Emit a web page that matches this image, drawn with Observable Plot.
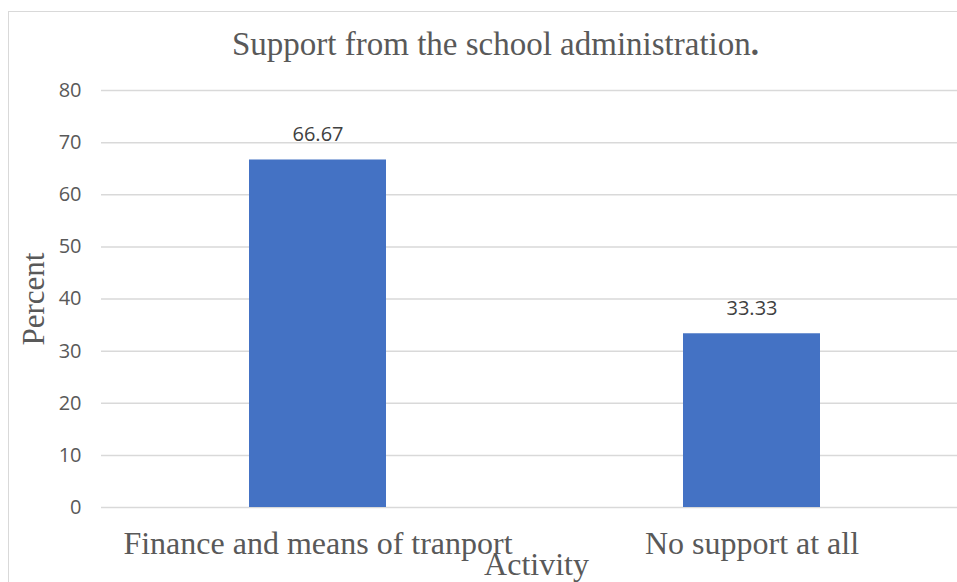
<!DOCTYPE html>
<html>
<head>
<meta charset="utf-8">
<script src="https://cdn.jsdelivr.net/npm/d3@7"></script>
<script src="https://cdn.jsdelivr.net/npm/@observablehq/plot@0.6"></script>
<style>
  html, body { margin: 0; padding: 0; background: #fff; overflow: hidden; }
  #wrap { position: relative; width: 957px; height: 582px; overflow: hidden; }
  #border { position: absolute; left: 8px; top: 11px; width: 2000px; height: 2000px;
            border-left: 1.5px solid #d9d9d9; border-top: 1.5px solid #d9d9d9; }
  #chart { position: absolute; left: 0; top: 0; }
  #chart svg { max-width: none; overflow: visible; }
</style>
</head>
<body>
<div id="wrap">
  <div id="border"></div>
  <div id="chart"></div>
</div>
<script>
// Responses on support from the school administration
const categories = ["Finance and means of tranport", "No support at all"];
const percents = [66.67, 33.33];
const yTicks = [0, 10, 20, 30, 40, 50, 60, 70, 80];

const titleText = "Support from the school administration.";
const xLabel = "Activity";
const yLabel = "Percent";

const rows = categories.map((c, i) => ({category: c, percent: percents[i]}));

const serif = "'Liberation Serif', 'Times New Roman', serif";
const sans = "'Open Sans', 'Noto Sans', sans-serif";

const chart = Plot.plot({
  width: 957,
  height: 582,
  marginTop: 90,
  marginBottom: 75,
  marginLeft: 101,
  marginRight: 0,
  style: {background: "transparent", overflow: "visible"},
  x: {domain: categories, range: [101, 969], paddingInner: 0.684, paddingOuter: 0.342, label: null},
  y: {domain: [0, 80], label: null},
  marks: [
    Plot.gridY(yTicks, {stroke: "#d9d9d9", strokeOpacity: 1, strokeWidth: 1.5}),
    Plot.axisY(yTicks, {tickSize: 0, tickPadding: 20, fontSize: 20, fontFamily: sans, fill: "#595959", label: null}),
    Plot.axisX({tickSize: 0, tickPadding: 24, fontSize: 32, fontFamily: serif, fill: "#595959", label: null}),
    Plot.barY(rows, {x: "category", y: "percent", fill: "#4472C4"}),
    Plot.text(rows, {x: "category", y: "percent", text: d => d.percent.toFixed(2), dy: -25,
      fontSize: 20, fontFamily: sans, fill: "#404040"}),
    Plot.text([titleText], {frameAnchor: "top", lineAnchor: "top", dy: -59, dx: -34, fontSize: 33,
      fontFamily: serif, fill: "#595959", className: "chart-title"}),
    Plot.text([xLabel], {frameAnchor: "bottom", lineAnchor: "top", dy: 45, dx: 7, fontSize: 32,
      fontFamily: serif, fill: "#595959"}),
    Plot.text([yLabel], {frameAnchor: "left", textAnchor: "middle", lineAnchor: "middle", dx: -67,
      rotate: -90, fontSize: 31, fontFamily: serif, fill: "#595959"})
  ]
});

document.getElementById("chart").appendChild(chart);

// Bold final period of the title
chart.querySelectorAll(".chart-title text").forEach(t => {
  const s = t.textContent;
  if (s.endsWith(".")) {
    t.textContent = "";
    const a = document.createElementNS("http://www.w3.org/2000/svg", "tspan");
    a.textContent = s.slice(0, -1);
    const b = document.createElementNS("http://www.w3.org/2000/svg", "tspan");
    b.textContent = ".";
    b.setAttribute("font-weight", "bold");
    t.appendChild(a);
    t.appendChild(b);
  }
});
</script>
</body>
</html>
